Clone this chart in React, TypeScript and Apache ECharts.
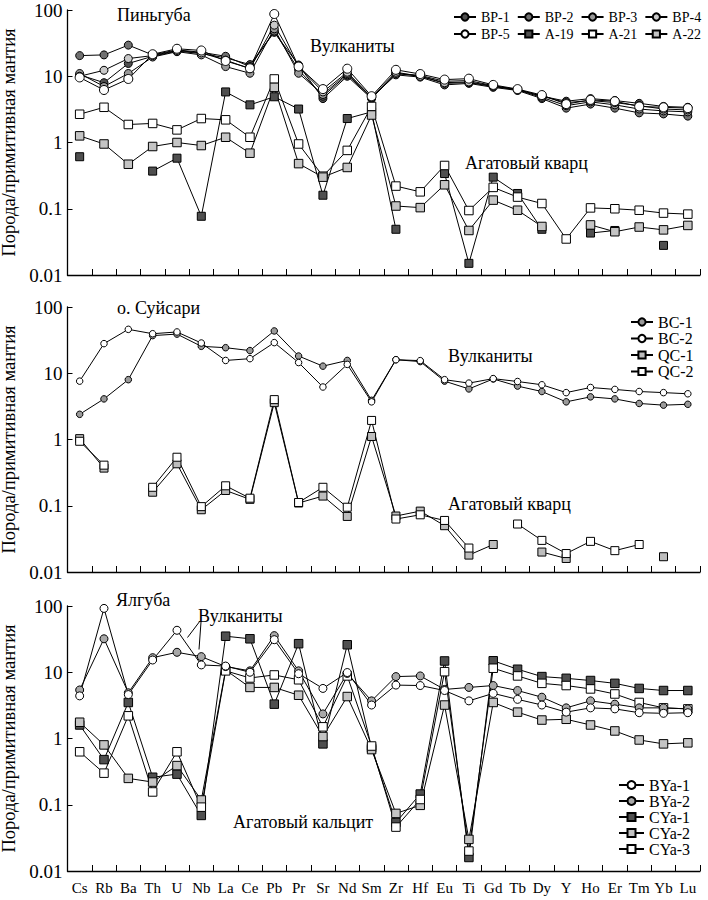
import React, { useEffect, useRef } from 'react';
import * as echarts from 'echarts';

const elements = ['Cs', 'Rb', 'Ba', 'Th', 'U', 'Nb', 'La', 'Ce', 'Pb', 'Pr', 'Sr', 'Nd', 'Sm', 'Zr', 'Hf', 'Eu', 'Ti', 'Gd', 'Tb', 'Dy', 'Y', 'Ho', 'Er', 'Tm', 'Yb', 'Lu'];
const yTickLabels = ['0.01', '0.1', '1', '10', '100'];
const yAxisTitle = 'Порода/примитивная мантия';

// Panel 1 — Пиньгуба
const bp1 = [10.5, 8, 15.6, 20, 24, 22, 19, 15, 46, 14.8, 4.6, 10, 4.6, 11, 10.3, 8.4, 8.6, 7.2, 6.3, 5.0, 4.2, 4.6, 4.3, 3.9, 3.5, 3.4];
const bp2 = [20.5, 21, 29.5, 21, 25, 23, 20, 14, 48, 12.5, 5.0, 10.5, 4.8, 10.5, 9.7, 7.4, 7.8, 6.8, 6.1, 4.6, 3.3, 3.8, 3.3, 2.8, 2.7, 2.5];
const bp3 = [11, 7, 11, 19.5, 23.5, 21, 14, 11.1, 52, 11.1, 5.3, 11, 4.7, 11, 10, 7.8, 8.0, 7.0, 6.2, 4.8, 3.6, 4.1, 3.7, 3.2, 3.0, 2.9];
const bp4 = [10, 12.3, 18.5, 20.5, 24.5, 22.5, 17.5, 13, 59, 14, 5.8, 11.5, 4.8, 11.5, 10, 8, 8.2, 7.1, 6.3, 5.0, 4.0, 4.3, 4.0, 3.6, 3.2, 3.1];
const bp5 = [9.6, 6.2, 9.1, 21.5, 26, 24.5, 17, 13.2, 87, 14, 6.4, 13, 5.0, 12.5, 10.8, 8.9, 9.2, 7.4, 6.4, 5.2, 3.8, 4.4, 4.2, 3.5, 3.4, 3.3];
const a19 = [0.61, null, null, 0.37, 0.58, 0.077, 5.8, 3.7, 4.9, 3.2, 0.16, 2.3, 2.9, 0.049, null, 0.34, 0.015, 0.3, 0.17, 0.049, null, 0.043, 0.047, null, 0.028, null];
const a21 = [2.67, 3.4, 1.87, 1.94, 1.55, 2.3, 2.2, 1.2, 9.1, 0.95, 0.31, 0.76, 3.5, 0.22, 0.18, 0.45, 0.094, 0.21, 0.15, 0.12, 0.035, 0.103, 0.1, 0.095, 0.086, 0.083];
const a22 = [1.26, 0.95, 0.47, 0.87, 1.0, 0.9, 1.2, 0.69, 6.8, 0.48, 0.3, 0.42, 2.6, 0.11, 0.104, 0.23, 0.047, 0.135, 0.095, 0.054, null, 0.057, 0.045, 0.053, 0.048, 0.056];

// Panel 2 — о. Суйсари
const bc1 = [2.4, 4.1, 8.0, 37, 39, 25.5, 24.3, 22, 43.5, 18.2, 12.8, 15.6, 3.9, 16, 15, 7.6, 5.8, 8.2, 6.4, 5.3, 3.7, 4.4, 4.1, 3.5, 3.3, 3.4];
const bc2 = [7.6, 28, 46, 39.5, 42, 28.6, 15.6, 16.6, 29, 14.5, 6.2, 13.6, 3.7, 16, 15.5, 8, 7.1, 8.3, 7.5, 6.7, 5.1, 6.1, 5.7, 5.3, 5.1, 4.9];
const qc1 = [1.03, 0.37, null, 0.16, 0.43, 0.087, 0.17, 0.125, 3.6, 0.11, 0.14, 0.069, 1.11, 0.07, 0.083, 0.05, 0.018, 0.026, null, 0.02, 0.016, null, null, null, 0.017, null];
const qc2 = [0.94, 0.41, null, 0.19, 0.54, 0.097, 0.2, 0.13, 4.0, 0.112, 0.19, 0.095, 1.94, 0.063, 0.073, 0.06, 0.023, null, 0.053, 0.03, 0.019, 0.029, 0.021, 0.026, null, null];

// Panel 3 — Ялгуба
const bya1 = [4.4, 92, 4.6, 15.3, 43, 12.9, 12.4, 10, 31, 9.5, 5.7, 9.9, 3.2, 6.4, 6.3, 5.3, 3.7, 4.8, 3.9, 3.2, 2.5, 2.9, 2.8, 2.45, 2.4, 2.45];
const bya2 = [5.4, 32, 4.9, 16.6, 20, 17.2, 12.2, 10.5, 35.7, 10.5, 2.35, 9.6, 3.7, 8.6, 8.8, 5.5, 5.9, 6.3, 5.3, 4.2, 2.9, 3.7, 3.3, 2.9, 2.9, 2.8];
const cya1 = [1.6, 0.48, 3.5, 0.26, 0.29, 0.069, 35, 32, 3.3, 27, 0.83, 26, 0.72, 0.054, 0.145, 14.8, 0.016, 14.9, 11.1, 8.6, 8.1, 7.5, 6.8, 5.7, 5.3, 5.3];
const cya2 = [1.76, 0.8, 0.25, 0.22, 0.39, 0.118, 10.8, 5.9, 5.9, 4.5, 1.07, 4.3, 0.68, 0.074, 0.098, 3.2, 0.03, 3.5, 2.5, 1.9, 1.95, 1.6, 1.3, 0.95, 0.83, 0.86];
const cya3 = [0.63, 0.3, 2.2, 0.156, 0.63, 0.092, 10.5, 8.2, 9.1, 7.7, 1.5, 8.8, 0.77, 0.046, 0.12, 10.2, 0.02, 11.5, 8.8, 6.8, 6.3, 5.6, 4.7, 3.5, 2.9, 2.8];

const FONT = 'Liberation Serif, DejaVu Serif, serif';
const PANEL_TOPS = [10, 307, 606];
const GRID_LEFT = 67.5;
const GRID_WIDTH = 632.5;
const GRID_HEIGHT = 265;

type Row = { name: string; data: (number | null)[]; symbol: string; fill: string; size: number; panel: number };

const rows: Row[] = [
  { name: 'BP-1', data: bp1, symbol: 'circle', fill: '#4f4f4f', size: 8, panel: 0 },
  { name: 'BP-2', data: bp2, symbol: 'circle', fill: '#707070', size: 8, panel: 0 },
  { name: 'BP-3', data: bp3, symbol: 'circle', fill: '#999999', size: 8, panel: 0 },
  { name: 'BP-4', data: bp4, symbol: 'circle', fill: '#c9c9c9', size: 8, panel: 0 },
  { name: 'A-19', data: a19, symbol: 'rect', fill: '#4f4f4f', size: 8, panel: 0 },
  { name: 'A-21', data: a21, symbol: 'rect', fill: '#ffffff', size: 8.5, panel: 0 },
  { name: 'A-22', data: a22, symbol: 'rect', fill: '#c4c4c4', size: 8.5, panel: 0 },
  { name: 'BP-5', data: bp5, symbol: 'circle', fill: '#ffffff', size: 9, panel: 0 },
  { name: 'BC-1', data: bc1, symbol: 'circle', fill: '#9a9a9a', size: 6.5, panel: 1 },
  { name: 'BC-2', data: bc2, symbol: 'circle', fill: '#ffffff', size: 6.5, panel: 1 },
  { name: 'QC-1', data: qc1, symbol: 'rect', fill: '#bdbdbd', size: 8, panel: 1 },
  { name: 'QC-2', data: qc2, symbol: 'rect', fill: '#ffffff', size: 8, panel: 1 },
  { name: 'CYa-1', data: cya1, symbol: 'rect', fill: '#4f4f4f', size: 8.5, panel: 2 },
  { name: 'CYa-2', data: cya2, symbol: 'rect', fill: '#c4c4c4', size: 8.5, panel: 2 },
  { name: 'CYa-3', data: cya3, symbol: 'rect', fill: '#ffffff', size: 8.5, panel: 2 },
  { name: 'BYa-2', data: bya2, symbol: 'circle', fill: '#a8a8a8', size: 8, panel: 2 },
  { name: 'BYa-1', data: bya1, symbol: 'circle', fill: '#ffffff', size: 8, panel: 2 },
];

const tickFormatter = (v: number) => {
  const p = Math.round(Math.log10(v));
  return yTickLabels[p + 2] ?? '';
};

const legendBase = (fontSize: number) => ({
  selectedMode: false as const,
  itemWidth: 22,
  itemHeight: 9,
  textStyle: { fontSize, fontFamily: FONT, color: '#000' },
});

const annotation = (text: string, x: number, y: number) => ({
  type: 'text',
  x,
  y,
  silent: true,
  style: { text, fontSize: 18, fontFamily: FONT, fill: '#000', align: 'left', verticalAlign: 'middle' },
});

export default function App() {
  const ref = useRef<HTMLDivElement>(null);
  useEffect(() => {
    document.body.style.margin = '0';
    if (!ref.current) return;
    const chart = echarts.init(ref.current, undefined, { renderer: 'svg' });
    const option = {
      animation: false,
      backgroundColor: '#ffffff',
      textStyle: { fontFamily: FONT },
      grid: PANEL_TOPS.map((t) => ({
        left: GRID_LEFT,
        top: t,
        width: GRID_WIDTH,
        height: GRID_HEIGHT,
        containLabel: false,
        outerBoundsMode: 'none',
      })),
      xAxis: [0, 1, 2].map((i) => ({
        type: 'category',
        gridIndex: i,
        data: elements,
        boundaryGap: true,
        axisLine: { show: true, lineStyle: { color: '#000', width: 1.3 } },
        axisTick: { show: true, inside: true, length: 6, interval: 0, lineStyle: { color: '#000', width: 1 } },
        axisLabel: { show: i === 2, interval: 0, margin: 9, color: '#000', fontSize: 15, fontFamily: FONT },
        splitLine: { show: false },
      })),
      yAxis: [0, 1, 2].map((i) => ({
        type: 'log',
        logBase: 10,
        gridIndex: i,
        min: 0.01,
        max: 100,
        axisLine: { show: true, lineStyle: { color: '#000', width: 1.3 } },
        axisTick: { show: true, inside: true, length: 5, lineStyle: { color: '#000', width: 1 } },
        minorTick: { show: false },
        splitLine: { show: false },
        axisLabel: { formatter: tickFormatter, color: '#000', fontSize: 19, fontFamily: FONT, margin: 5 },
        name: yAxisTitle,
        nameLocation: 'middle',
        nameGap: 42,
        nameTextStyle: { color: '#000', fontSize: 18.5, fontFamily: FONT },
      })),
      legend: [
        { ...legendBase(14), data: ['BP-1', 'BP-2', 'BP-3', 'BP-4'], left: 448, top: 5, itemGap: 7 },
        { ...legendBase(14), data: ['BP-5', 'A-19', 'A-21', 'A-22'], left: 448, top: 22, itemGap: 7 },
        { ...legendBase(16), data: ['BC-1', 'BC-2', 'QC-1', 'QC-2'], orient: 'vertical', left: 625, top: 309, itemGap: 0.5 },
        { ...legendBase(16), itemWidth: 25, itemHeight: 10, data: ['BYa-1', 'BYa-2', 'CYa-1', 'CYa-2', 'CYa-3'], orient: 'vertical', left: 613, top: 772, itemGap: 0 },
      ],
      series: rows.map((r) => ({
        type: 'line',
        name: r.name,
        xAxisIndex: r.panel,
        yAxisIndex: r.panel,
        data: r.data,
        symbol: r.symbol,
        symbolSize: r.size,
        showSymbol: true,
        showAllSymbol: true,
        connectNulls: false,
        silent: true,
        lineStyle: { color: '#000', width: 1 },
        itemStyle: { color: r.fill, borderColor: '#000', borderWidth: 1 },
        emphasis: { disabled: true },
      })),
      graphic: [
        annotation('Пиньгуба', 117, 15),
        annotation('Вулканиты', 310, 46),
        annotation('Агатовый кварц', 465, 163),
        annotation('о. Суйсари', 117, 308),
        annotation('Вулканиты', 448, 356),
        annotation('Агатовый кварц', 448, 504),
        annotation('Ялгуба', 116, 600),
        annotation('Вулканиты', 198, 616),
        annotation('Агатовый кальцит', 233, 822),
        { type: 'line', silent: true, shape: { x1: 200, y1: 621, x2: 187.5, y2: 637.5 }, style: { stroke: '#000', lineWidth: 1 } },
        { type: 'line', silent: true, shape: { x1: 201, y1: 622, x2: 199, y2: 649.5 }, style: { stroke: '#000', lineWidth: 1 } },
      ],
    };
    chart.setOption(option as any);
    return () => chart.dispose();
  }, []);
  return <div ref={ref} style={{ position: 'absolute', left: 0, top: 0, width: 708, height: 900, background: '#fff' }} />;
}
